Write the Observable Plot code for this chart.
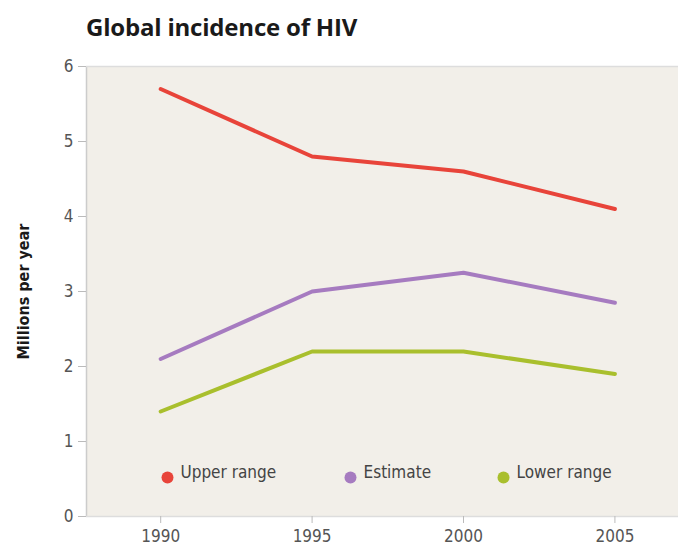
<!DOCTYPE html>
<html>
<head>
<meta charset="utf-8">
<script src="https://cdn.jsdelivr.net/npm/d3@7"></script>
<script src="https://cdn.jsdelivr.net/npm/@observablehq/plot@0.6"></script>
<style>
  html, body { margin: 0; padding: 0; background: #fff; }
  #wrap { position: relative; width: 678px; height: 552px; overflow: hidden; }
  h1 { position: absolute; left: 86px; top: 10px; margin: 0; line-height: 1; font: bold 24px "Open Sans", "DejaVu Sans", sans-serif; color: #1a1a1a; letter-spacing: -0.2px; }
  #chart { position: absolute; left: 0; top: 0; }
</style>
</head>
<body>
<div id="wrap">
  <div id="chart"></div>
  <h1>Global incidence of HIV</h1>
</div>
<script>
const years = [1990, 1995, 2000, 2005];
const seriesNames = ["Upper range", "Estimate", "Lower range"];
const upperRange = [5.7, 4.8, 4.6, 4.1];
const estimate = [2.1, 3.0, 3.25, 2.85];
const lowerRange = [1.4, 2.2, 2.2, 1.9];
const yTicks = [0, 1, 2, 3, 4, 5, 6];
const colors = ["#e8443a", "#a67bc0", "#a9bf2d"];

const values = [upperRange, estimate, lowerRange];
const data = [];
seriesNames.forEach((s, i) => years.forEach((yr, j) => data.push({series: s, year: yr, value: values[i][j]})));

const font = '"Liberation Sans Narrow", "DejaVu Sans Condensed", "Arial Narrow", sans-serif';
const legendOffsets = [81, 264, 417];

const plot = Plot.plot({
  width: 678,
  height: 552,
  marginLeft: 86,
  marginRight: 0,
  marginTop: 66,
  marginBottom: 36,
  style: {fontFamily: font, fontSize: "17px", color: "#555", background: "transparent"},
  x: {domain: [1987.55, 2007.1], ticks: years, tickFormat: d => String(d), label: null},
  y: {domain: [0, 6], ticks: yTicks, tickFormat: d3.format("d"), label: null},
  color: {domain: seriesNames, range: colors},
  marks: [
    Plot.frame({fill: "#f2efe9", stroke: null}),
    Plot.ruleX([1987.55], {stroke: "#ccc", strokeWidth: 1.5}),
    Plot.ruleY([0, 6], {stroke: "#ddd", strokeWidth: 1.5}),
    Plot.axisX({ticks: years, tickFormat: d => String(d), tickSize: 7, tickPadding: 6, stroke: "#bbb", fill: "#555", fontSize: 17}),
    Plot.axisY({ticks: yTicks, tickFormat: d3.format("d"), tickSize: 8, tickPadding: 5, stroke: "#bbb", fill: "#555", fontSize: 17}),
    Plot.text(["Millions per year"], {frameAnchor: "left", dx: -63, rotate: -90, textAnchor: "middle", fill: "#1a1a1a", fontSize: 16, fontWeight: "bold"}),
    Plot.line(data, {x: "year", y: "value", stroke: "series", z: "series", strokeWidth: 4}),
    ...seriesNames.map((s, i) => Plot.dot([s], {frameAnchor: "bottom-left", dx: legendOffsets[i], dy: -39, r: 6, fill: colors[i], stroke: null})),
    ...seriesNames.map((s, i) => Plot.text([s], {frameAnchor: "bottom-left", dx: legendOffsets[i] + 13, dy: -39, text: d => d, textAnchor: "start", fill: "#444", fontSize: 17}))
  ]
});
document.getElementById("chart").appendChild(plot);
</script>
</body>
</html>
